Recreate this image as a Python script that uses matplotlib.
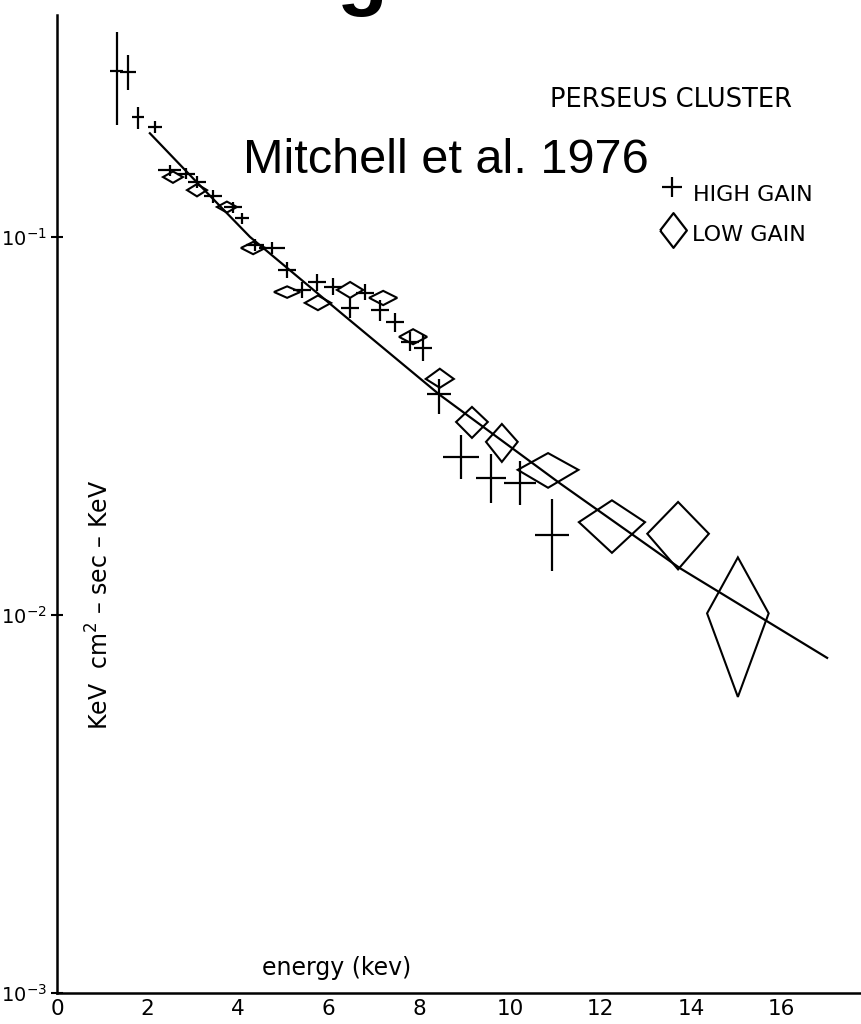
import numpy as np
import matplotlib.pyplot as plt

plt.rcParams['font.family'] = ['DejaVu Sans']
plt.rcParams['mathtext.default'] = 'regular'

# High gain points: energy (keV), flux, energy half-width, flux lower / upper limit
hg_energy = [1.32, 1.57, 1.79, 2.16, 2.49, 2.85, 3.09, 3.44, 3.89, 4.08, 4.37, 4.75,
             5.08, 5.41, 5.74, 6.09, 6.47, 6.80, 7.13, 7.46, 7.79, 8.08, 8.43,
             8.92, 9.58, 10.22, 10.93]
hg_flux = [0.275, 0.273, 0.207, 0.195, 0.150, 0.147, 0.140, 0.128, 0.120, 0.112, 0.0953, 0.0935,
           0.0818, 0.0724, 0.0760, 0.0738, 0.0649, 0.0711, 0.0641, 0.0596, 0.0528, 0.0508, 0.0384,
           0.0262, 0.0230, 0.0223, 0.0163]
hg_ewidth = [0.14, 0.17, 0.13, 0.15, 0.25, 0.20, 0.20, 0.20, 0.20, 0.15, 0.20, 0.29,
             0.20, 0.20, 0.20, 0.20, 0.20, 0.20, 0.20, 0.20, 0.20, 0.20, 0.26,
             0.40, 0.34, 0.35, 0.38]
hg_lo = [0.198, 0.245, 0.193, 0.188, 0.145, 0.142, 0.135, 0.123, 0.116, 0.108, 0.092, 0.090,
         0.078, 0.069, 0.072, 0.070, 0.061, 0.068, 0.060, 0.056, 0.050, 0.047, 0.034,
         0.0229, 0.0198, 0.0195, 0.0131]
hg_hi = [0.348, 0.303, 0.221, 0.202, 0.155, 0.152, 0.145, 0.133, 0.124, 0.116, 0.099, 0.097,
         0.086, 0.076, 0.080, 0.078, 0.069, 0.075, 0.068, 0.063, 0.056, 0.055, 0.042,
         0.0300, 0.0267, 0.0256, 0.0203]

# Low gain points: energy, flux, energy half-width, flux lower / upper limit
lg_energy = [2.56, 3.09, 3.75, 4.33, 5.08, 5.76, 6.47, 7.20, 7.86, 8.45, 9.16, 9.82,
             10.84, 12.25, 13.71, 15.03]
lg_flux = [0.144, 0.133, 0.120, 0.0935, 0.0715, 0.0669, 0.0724, 0.0690, 0.0544, 0.0421, 0.0324, 0.0287,
           0.0242, 0.0176, 0.0164, 0.0101]
lg_ewidth = [0.22, 0.22, 0.22, 0.27, 0.29, 0.29, 0.29, 0.31, 0.31, 0.31, 0.35, 0.35,
             0.67, 0.73, 0.68, 0.68]
lg_lo = [0.139, 0.128, 0.116, 0.090, 0.069, 0.064, 0.069, 0.066, 0.052, 0.0399, 0.0294, 0.0254,
         0.0217, 0.0146, 0.0132, 0.00607]
lg_hi = [0.149, 0.138, 0.124, 0.097, 0.074, 0.070, 0.076, 0.072, 0.057, 0.0448, 0.0355, 0.0320,
         0.0268, 0.0201, 0.0199, 0.0142]

# Model curve
fit_energy = [2.05, 3.0, 4.26, 6.3, 8.45, 11.1, 13.75, 17.0]
fit_flux = [0.188, 0.143, 0.100, 0.0625, 0.0382, 0.0223, 0.0133, 0.0077]

W, H = 862, 1024
fig = plt.figure(figsize=(W / 100, H / 100), dpi=100)
ax = fig.add_axes([57 / W, 31 / H, (W - 57) / W, (H - 31 - 15) / H])

ax.set_yscale('log')
ax.set_xlim(0, 17.77)
ax.set_ylim(1e-3, 10 ** -0.413)

for s in ['top', 'right']:
    ax.spines[s].set_visible(False)
for s in ['left', 'bottom']:
    ax.spines[s].set_linewidth(1.8)

ax.set_xticks([0, 2, 4, 6, 8, 10, 12, 14, 16])
ax.set_yticks([1e-3, 1e-2, 1e-1])
ax.set_yticklabels(['$10^{-3}$', '$10^{-2}$', '$10^{-1}$'])
ax.yaxis.set_minor_locator(plt.NullLocator())
ax.tick_params(axis='x', length=0, pad=4, labelsize=15.5)
ax.tick_params(axis='y', direction='inout', length=9, width=1.5, pad=3, labelsize=14)

# fitted spectrum
ax.plot(fit_energy, fit_flux, color='black', lw=1.6)

# high gain crosses
hg_flux_a = np.array(hg_flux)
yerr = [hg_flux_a - np.array(hg_lo), np.array(hg_hi) - hg_flux_a]
ax.errorbar(hg_energy, hg_flux, xerr=hg_ewidth, yerr=yerr, fmt='none',
            ecolor='black', elinewidth=1.6, capsize=0)

# low gain diamonds
for e, f, w, lo, hi in zip(lg_energy, lg_flux, lg_ewidth, lg_lo, lg_hi):
    ax.fill([e - w, e, e + w, e], [f, hi, f, lo], facecolor='none',
            edgecolor='black', lw=1.5)

# labels
fig.text(337 / W, 1 - 968 / H, 'energy (kev)', ha='center', va='center', fontsize=17)
fig.text(100 / W, 1 - 605 / H, 'KeV  cm$^{2}$ – sec – KeV', rotation=90,
         ha='center', va='center', fontsize=17)

fig.text(550 / W, 1 - 100 / H, 'PERSEUS CLUSTER', ha='left', va='center', fontsize=18.5)
fig.text(693 / W, 1 - 195 / H, 'HIGH GAIN', ha='left', va='center', fontsize=16)
fig.text(692 / W, 1 - 235 / H, 'LOW GAIN', ha='left', va='center', fontsize=16)
fig.lines.append(plt.Line2D([672 / W], [1 - 187 / H], marker='+', markersize=15,
                            mew=1.6, color='black', transform=fig.transFigure))
diamond = [(-0.77, 0), (0, 1), (0.77, 0), (0, -1), (-0.77, 0)]
fig.lines.append(plt.Line2D([673 / W], [1 - 230 / H], marker=diamond, markersize=25,
                            mew=1.6, mfc='none', color='black', transform=fig.transFigure))

fig.text(243 / W, 1 - 173 / H, 'Mitchell et al. 1976', ha='left', va='baseline',
         fontsize=35, family=['Liberation Sans', 'DejaVu Sans'])

# slide title running off the top edge
fig.text(362 / W, 1.0, 'g', ha='center', va='baseline', fontsize=60,
         fontweight='bold', family=['Liberation Sans', 'DejaVu Sans'])

fig.savefig('out.png', dpi=100)
